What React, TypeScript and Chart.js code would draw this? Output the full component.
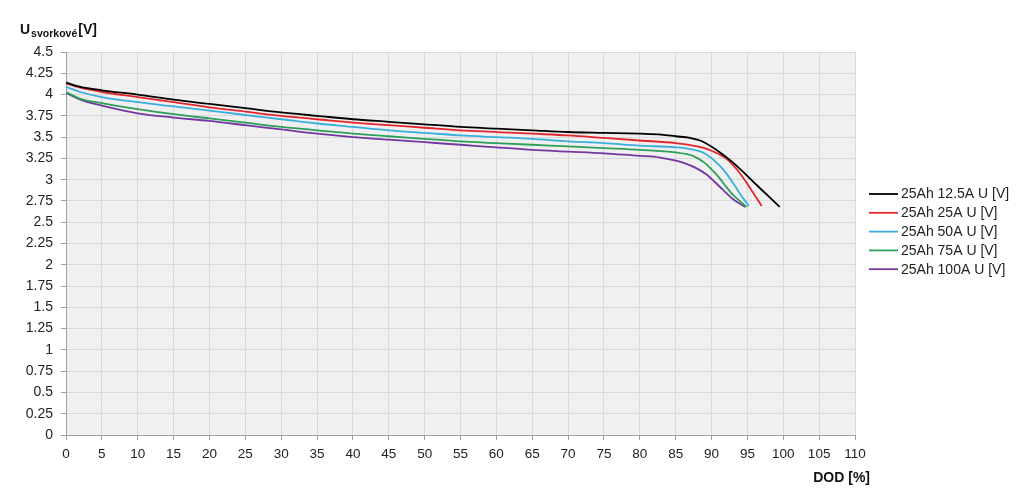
import React, { useEffect, useRef } from "react";
import { Chart, registerables } from "chart.js";

Chart.register(...registerables);

const seriesLabels = [
  "25Ah 12.5A U [V]",
  "25Ah 25A U [V]",
  "25Ah 50A U [V]",
  "25Ah 75A U [V]",
  "25Ah 100A U [V]",
];
const seriesColors = ["#000000", "#e3262d", "#3aaedc", "#2e9e5a", "#7437a0"];

const dod12 = [0, 2, 5, 10, 15, 20, 25, 30, 35, 40, 45, 50, 55, 60, 65, 70, 75, 80, 83, 85, 87, 88.4, 90.7, 93, 96.5, 99.5];
const u12 = [4.14, 4.09, 4.05, 4.0, 3.94, 3.89, 3.84, 3.79, 3.75, 3.71, 3.68, 3.65, 3.62, 3.6, 3.58, 3.56, 3.55, 3.54, 3.53, 3.51, 3.49, 3.46, 3.35, 3.2, 2.92, 2.68];

const dod25 = [0, 2, 5, 10, 15, 20, 25, 30, 35, 40, 45, 50, 55, 60, 65, 70, 75, 80, 85, 88, 90, 92, 93, 94, 95, 96, 97];
const u25 = [4.13, 4.08, 4.03, 3.97, 3.91, 3.85, 3.8, 3.75, 3.71, 3.67, 3.64, 3.61, 3.58, 3.56, 3.54, 3.52, 3.49, 3.46, 3.43, 3.39, 3.34, 3.25, 3.17, 3.07, 2.95, 2.82, 2.69];

const dod50 = [0, 2, 5, 10, 15, 20, 25, 30, 35, 40, 45, 50, 55, 60, 65, 70, 75, 80, 85, 87, 89, 90.7, 92, 93, 94, 95.2];
const u50 = [4.09, 4.03, 3.97, 3.91, 3.86, 3.81, 3.76, 3.71, 3.66, 3.62, 3.58, 3.55, 3.52, 3.5, 3.48, 3.45, 3.43, 3.4, 3.38, 3.36, 3.31, 3.2, 3.08, 2.96, 2.83, 2.69];

const dod75 = [0, 2, 5, 10, 15, 20, 25, 30, 35, 40, 45, 50, 55, 60, 65, 70, 75, 80, 85, 87.4, 89, 90, 91, 92, 93, 94.9];
const u75 = [4.03, 3.95, 3.9, 3.83, 3.77, 3.72, 3.67, 3.62, 3.58, 3.54, 3.51, 3.48, 3.45, 3.43, 3.41, 3.39, 3.37, 3.35, 3.32, 3.28, 3.2, 3.12, 3.03, 2.92, 2.82, 2.68];

const dod100 = [0, 2, 5, 10, 15, 20, 25, 30, 35, 40, 45, 50, 55, 60, 65, 70, 75, 80, 82, 84, 86, 88, 89.3, 90.5, 91.6, 93, 94.7];
const u100 = [4.02, 3.94, 3.87, 3.78, 3.73, 3.69, 3.64, 3.59, 3.54, 3.5, 3.47, 3.44, 3.41, 3.38, 3.35, 3.33, 3.31, 3.28, 3.27, 3.24, 3.2, 3.13, 3.06, 2.97, 2.88, 2.77, 2.68];

const seriesDod = [dod12, dod25, dod50, dod75, dod100];
const seriesU = [u12, u25, u50, u75, u100];

const xMin = 0;
const xMax = 110;
const xStep = 5;
const yMin = 0;
const yMax = 4.5;
const yStep = 0.25;

const FONT = "'Liberation Sans', Arial, sans-serif";

const bgPlugin = {
  id: "plotBg",
  beforeDraw(chart: any) {
    const { ctx, chartArea } = chart;
    ctx.save();
    ctx.fillStyle = "#f0f0f0";
    ctx.fillRect(chartArea.left, chartArea.top, chartArea.right - chartArea.left, chartArea.bottom - chartArea.top);
    ctx.restore();
  },
};

const textPlugin = {
  id: "texts",
  afterDraw(chart: any) {
    const { ctx } = chart;
    ctx.save();
    ctx.fillStyle = "#111";
    ctx.textBaseline = "alphabetic";
    ctx.textAlign = "left";
    // Y axis title
    let x = 20;
    ctx.font = `bold 14px ${FONT}`;
    ctx.fillText("U", x, 34);
    x += ctx.measureText("U").width + 1;
    ctx.font = `bold 10.5px ${FONT}`;
    ctx.fillText("svorkové", x, 37);
    x += ctx.measureText("svorkové").width + 1;
    ctx.font = `bold 14px ${FONT}`;
    ctx.fillText("[V]", x, 34);
    // X axis title
    ctx.textAlign = "right";
    ctx.font = `bold 14px ${FONT}`;
    ctx.fillText("DOD [%]", 870, 482);
    // Legend
    const lx0 = 869;
    const lx1 = 898;
    const tx = 901;
    const y0 = 194;
    const dy = 18.8;
    ctx.textAlign = "left";
    ctx.textBaseline = "middle";
    ctx.font = `14px ${FONT}`;
    chart.data.datasets.forEach((ds: any, i: number) => {
      const yy = y0 + i * dy;
      ctx.strokeStyle = ds.borderColor;
      ctx.lineWidth = 1.8;
      ctx.beginPath();
      ctx.moveTo(lx0, yy);
      ctx.lineTo(lx1, yy);
      ctx.stroke();
      ctx.fillStyle = "#222";
      ctx.fillText(ds.label, tx, yy + 0.5);
    });
    ctx.restore();
  },
};

export default function App() {
  const ref = useRef<HTMLCanvasElement | null>(null);
  useEffect(() => {
    document.body.style.margin = "0";
    const canvas = ref.current;
    if (!canvas) return;
    const datasets = seriesLabels.map((label, i) => ({
      label,
      data: seriesDod[i].map((d, j) => ({ x: d, y: seriesU[i][j] })),
      borderColor: seriesColors[i],
      backgroundColor: seriesColors[i],
      borderWidth: 1.8,
      pointRadius: 0,
      fill: false,
      cubicInterpolationMode: "monotone" as const,
    }));
    const chart = new Chart(canvas, {
      type: "line",
      data: { datasets },
      options: {
        animation: false,
        responsive: false,
        layout: { padding: { top: 52, right: 169, bottom: 0, left: 0 } },
        plugins: { legend: { display: false }, tooltip: { enabled: false }, title: { display: false } },
        scales: {
          x: {
            type: "linear",
            min: xMin,
            max: xMax,
            afterFit: (scale: any) => {
              scale.height = 57;
            },
            ticks: {
              stepSize: xStep,
              color: "#222",
              font: { family: FONT, size: 13.5 },
              padding: 6,
              maxRotation: 0,
              autoSkip: false,
            },
            grid: { color: "#d9d9d9", tickColor: "#a0a0a0", tickLength: 5, lineWidth: 1 },
            border: { color: "#a0a0a0", width: 1 },
          },
          y: {
            type: "linear",
            min: yMin,
            max: yMax,
            afterFit: (scale: any) => {
              scale.width = 66;
            },
            ticks: {
              stepSize: yStep,
              color: "#222",
              font: { family: FONT, size: 14 },
              padding: 8,
              autoSkip: false,
              callback: (v: any) => String(+Number(v).toFixed(2)),
            },
            grid: { color: "#d9d9d9", tickColor: "#a0a0a0", tickLength: 5, lineWidth: 1 },
            border: { color: "#a0a0a0", width: 1 },
          },
        },
      },
      plugins: [bgPlugin, textPlugin],
    });
    return () => chart.destroy();
  }, []);
  return (
    <div style={{ position: "absolute", left: 0, top: 0, width: 1024, height: 492, background: "#fff" }}>
      <canvas ref={ref} width={1024} height={492} style={{ display: "block" }} />
    </div>
  );
}
